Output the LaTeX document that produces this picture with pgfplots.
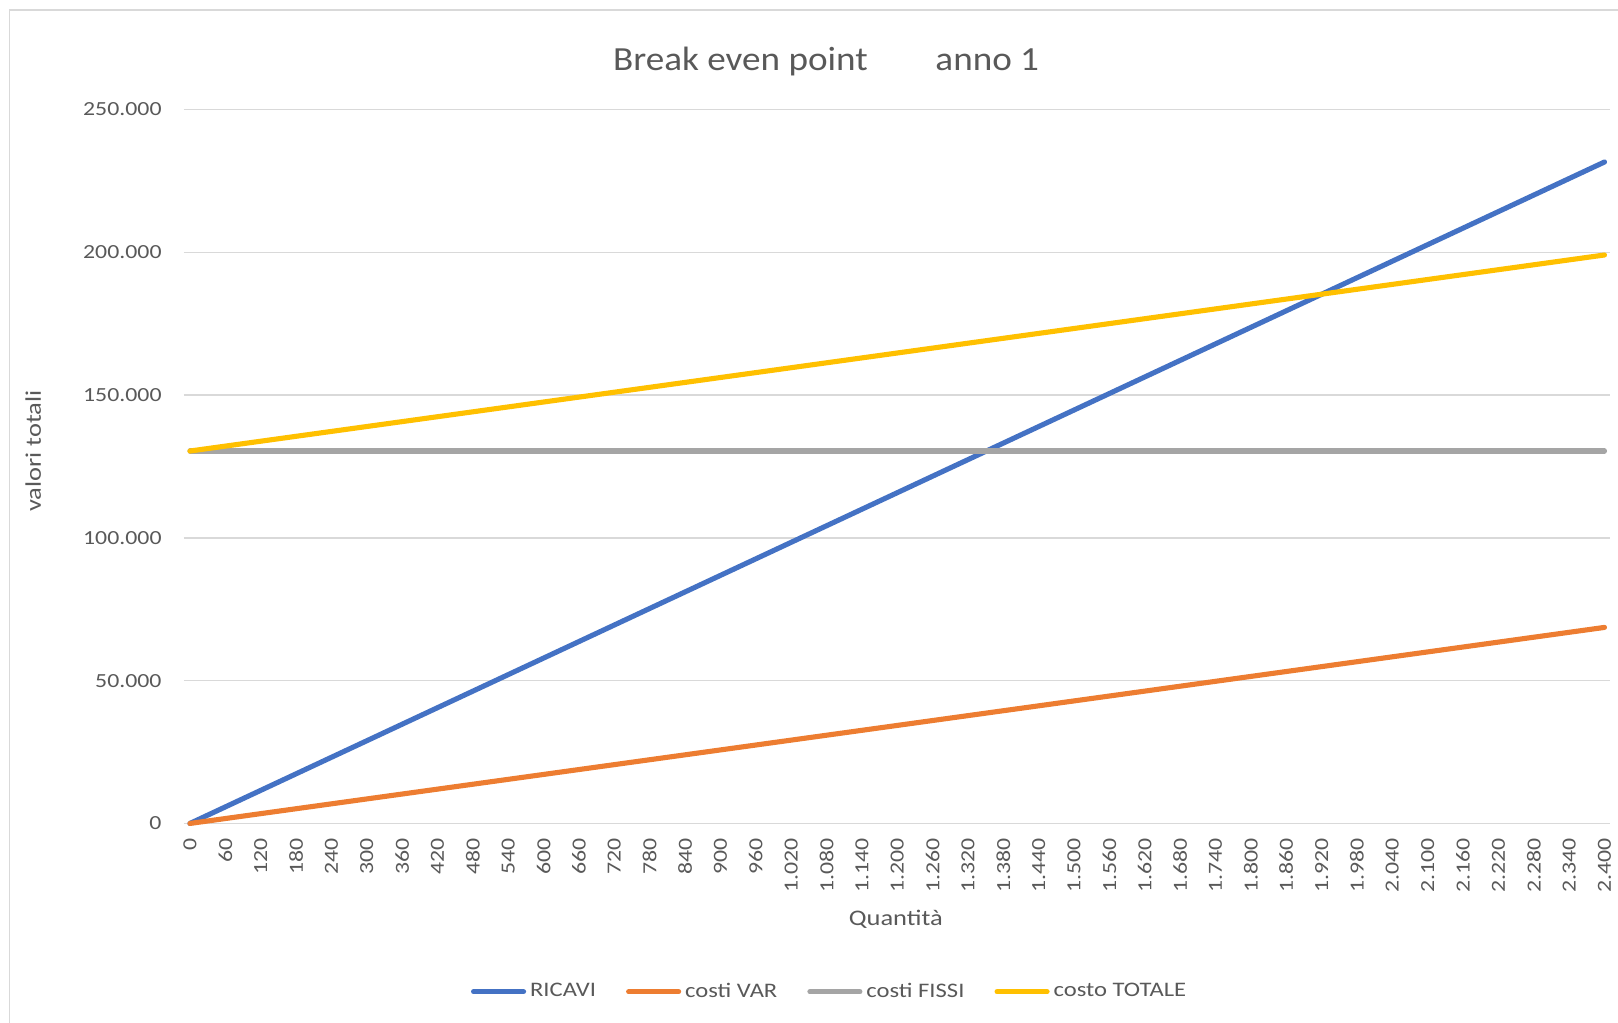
\documentclass[border=0pt]{standalone}
\usepackage{pgfplots}
\pgfplotsset{compat=1.18}
\usepackage{pgfplotstable}
\usepackage{fontspec}
\setmainfont{Carlito}[FakeStretch=1.19]
\newfontfamily\titlefont{Carlito}[FakeStretch=1.1]
\definecolor{ricavi}{HTML}{4472C4}
\definecolor{cvar}{HTML}{ED7D31}
\definecolor{cfissi}{HTML}{A5A5A5}
\definecolor{ctot}{HTML}{FFC000}
\definecolor{textgray}{HTML}{595959}
\definecolor{gridgray}{HTML}{D9D9D9}
\pgfplotstableread{
x ricavi var fissi tot
0 0 0 130400 130400
600 57900 17160 130400 147560
1200 115800 34320 130400 164720
1800 173700 51480 130400 181880
2400 231600 68640 130400 199040
}\datatab
\begin{document}
\begin{tikzpicture}
\useasboundingbox (0,0) rectangle (728.1pt,460.35pt);
\draw[gridgray, line width=0.8pt] (4.3pt,0pt) -- (4.3pt,455.85pt) -- (728.1pt,455.85pt);
\node[anchor=base west, inner sep=0pt, text=textgray, font=\titlefont\fontsize{15.2}{18}\selectfont] at (275.7pt,428.4pt) {Break even point};
\node[anchor=base west, inner sep=0pt, text=textgray, font=\titlefont\fontsize{15.2}{18}\selectfont] at (420.75pt,428.4pt) {anno 1};
\node[rotate=90, inner sep=0pt, text=textgray, font=\fontsize{10}{12}\selectfont] at (15.0pt,257.4pt) {valori totali};
\node[inner sep=0pt, text=textgray, font=\fontsize{10}{12}\selectfont] at (403.1pt,46.5pt) {Quantità};
\begin{axis}[
  at={(82.7pt,89.8pt)}, anchor=south west,
  scale only axis, width=641.7pt, height=321.3pt,
  xmin=-10.5, xmax=2409, ymin=0, ymax=250000,
  xtick={0,60,...,2400},
  ytick={0,50000,100000,150000,200000,250000},
  scaled y ticks=false, scaled x ticks=false,
  /pgf/number format/.cd, fixed, 1000 sep={.}, assume math mode=true, /pgfplots/.cd,
  axis line style={draw=none},
  major tick length=0pt,
  ymajorgrids, grid style={gridgray, line width=0.6pt},
  xmajorgrids=false,
  ticklabel style={text=textgray, font=\fontsize{9}{11}\selectfont},
  yticklabel style={anchor=east, inner sep=0pt, xshift=-9.8pt},
  xticklabel style={rotate=90, anchor=east, inner sep=0pt},
  xticklabel shift=6.5pt,
  clip=false,
  legend columns=4,
  legend image code/.code={\draw[#1, line cap=round] (0pt,0pt) -- (22.5pt,0pt);},
  legend style={at={(axis description cs:0.4522,-0.2357)}, anchor=center, draw=none, fill=none,
    nodes={inner sep=0pt, text=textgray, font=\fontsize{9.3}{11}\selectfont},
    /tikz/every odd column/.append style={column sep=1.8pt},
    /tikz/every even column/.append style={column sep=13.5pt}},
  legend cell align=left,
]
\addplot[ricavi, line width=2.3pt, line cap=round] table[x=x, y=ricavi] {\datatab};
\addlegendentry{RICAVI}
\addplot[cvar, line width=2.3pt, line cap=round] table[x=x, y=var] {\datatab};
\addlegendentry{costi VAR}
\addplot[cfissi, line width=2.3pt, line cap=round] table[x=x, y=fissi] {\datatab};
\addlegendentry{costi FISSI}
\addplot[ctot, line width=2.3pt, line cap=round] table[x=x, y=tot] {\datatab};
\addlegendentry{costo TOTALE}
\end{axis}
\end{tikzpicture}
\end{document}
